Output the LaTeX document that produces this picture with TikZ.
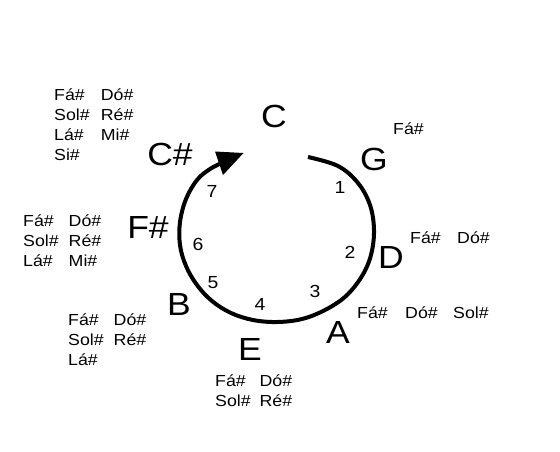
\documentclass[tikz,border=0pt]{standalone}
\usepackage{graphicx}
\usepackage{fontspec}
\setmainfont{Liberation Sans}
\newcommand\wide[1]{\scalebox{1.11}[1]{#1}}
\begin{document}
\begin{tikzpicture}[x=1pt,y=-1pt,
  keylbl/.style={font=\fontsize{32}{36}\selectfont, inner sep=0pt, anchor=base},
  numlbl/.style={font=\fontsize{17.5}{20}\selectfont, inner sep=0pt, anchor=center},
  acc/.style={font=\fontsize{16}{20}\selectfont, inner sep=0pt, anchor=base west},
  arcline/.style={line width=4pt, line cap=butt},
]
\useasboundingbox (0,0) rectangle (560,451);

% key names
\node[keylbl] (C)  at (274,127.5) {\wide{C}};
\node[keylbl] (G)  at (374,170) {\wide{G}};
\node[keylbl] (D)  at (391,268) {\wide{D}};
\node[keylbl] (A)  at (338,343) {\wide{A}};
\node[keylbl] (E)  at (250,360) {\wide{E}};
\node[keylbl] (B)  at (179,315) {\wide{B}};
\node[keylbl] (Fs) at (148,238) {\wide{F\#}};
\node[keylbl] (Cs) at (170,165) {\wide{C\#}};

% numbers
\node[numlbl] (n1) at (340,187) {\wide{1}};
\node[numlbl] (n2) at (350,252) {\wide{2}};
\node[numlbl] (n3) at (315,291) {\wide{3}};
\node[numlbl] (n4) at (260,304) {\wide{4}};
\node[numlbl] (n5) at (213,283) {\wide{5}};
\node[numlbl] (n6) at (198,244) {\wide{6}};
\node[numlbl] (n7) at (212,191) {\wide{7}};

% accidentals
\node[acc] (accG) at (393,134) {\wide{Fá\#}};
\node[acc] (accD1) at (410,243) {\wide{Fá\#}};
\node[acc] (accD2) at (457,243) {\wide{Dó\#}};
\node[acc] (accA1) at (357,318) {\wide{Fá\#}};
\node[acc] (accA2) at (405,318) {\wide{Dó\#}};
\node[acc] (accA3) at (453,318) {\wide{Sol\#}};
\node[acc] (accE) at (215,386) {\wide{\begin{tabular}[t]{@{}l@{\hspace{8pt}}l@{}}Fá\# & Dó\#\\ Sol\# & Ré\#\end{tabular}}};
\node[acc] (accB) at (68,325) {\wide{\begin{tabular}[t]{@{}l@{\hspace{9pt}}l@{}}Fá\# & Dó\#\\ Sol\# & Ré\#\\ Lá\# & \end{tabular}}};
\node[acc] (accFs) at (23,226) {\wide{\begin{tabular}[t]{@{}l@{\hspace{9pt}}l@{}}Fá\# & Dó\#\\ Sol\# & Ré\#\\ Lá\# & Mi\#\end{tabular}}};
\node[acc] (accCs) at (54,100) {\wide{\begin{tabular}[t]{@{}l@{\hspace{10pt}}l@{}}Fá\# & Dó\#\\ Sol\# & Ré\#\\ Lá\# & Mi\#\\ Si\# & \end{tabular}}};

% arc with arrow
\draw[arcline] plot[smooth, tension=0.6] coordinates {(308,157) (338,166) (358,183) (370,205) (374,230) (371,255) (362,276) (346,296) (325,310) (302,319) (277,322) (253,320) (231,313) (212,301) (197,285) (186,266) (180,245) (180,222) (186,199) (197,180) (210,169) (224,162)};
\coordinate (t1) at (215,151.5);
\coordinate (t2) at (243.5,153);
\coordinate (t3) at (223,175);
\fill (t1) -- (t2) -- (t3) -- cycle;
\end{tikzpicture}
\end{document}
